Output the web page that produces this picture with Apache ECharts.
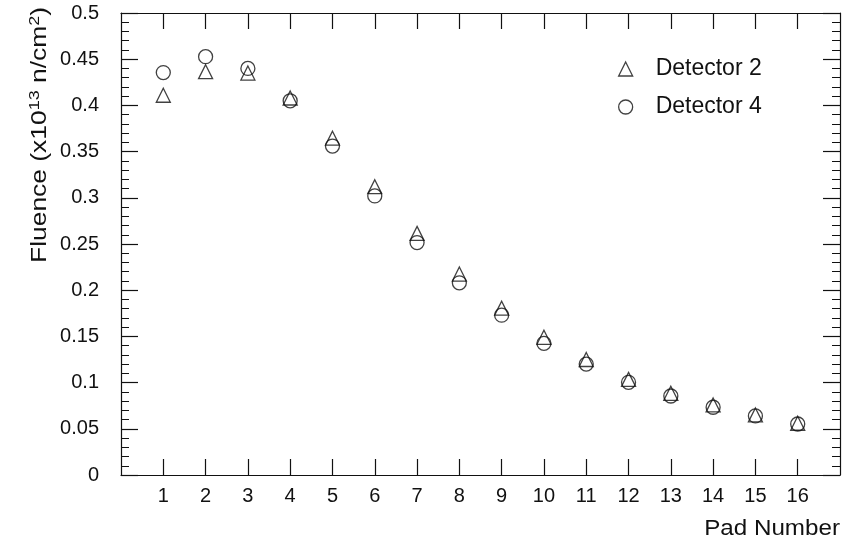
<!DOCTYPE html>
<html>
<head>
<meta charset="utf-8">
<title>Fluence per pad</title>
<script src="https://cdn.jsdelivr.net/npm/echarts@6/dist/echarts.min.js"></script>
<style>
  html, body { margin: 0; padding: 0; background: #fff; }
  #chart { width: 845px; height: 548px; }
</style>
</head>
<body>
<div id="chart"></div>
<script>
// Pad numbers along the x axis
const pads = [1, 2, 3, 4, 5, 6, 7, 8, 9, 10, 11, 12, 13, 14, 15, 16];
// Fluence (x10^13 n/cm^2) per pad
const detector2 = [0.411, 0.4365, 0.435, 0.408, 0.3645, 0.312, 0.2615, 0.2175, 0.1805, 0.149, 0.125, 0.1035, 0.0884, 0.0758, 0.065, 0.056];
const detector4 = [0.4355, 0.4527, 0.440, 0.405, 0.356, 0.302, 0.2515, 0.208, 0.173, 0.1425, 0.120, 0.1003, 0.0855, 0.0733, 0.0639, 0.0552];
const seriesNames = ['Detector 2', 'Detector 4'];

const FONT = '"Liberation Sans", Arial, Helvetica, sans-serif';
const INK = '#111';

const chart = echarts.init(document.getElementById('chart'), null, { renderer: 'canvas' });

const hollow = { color: 'rgba(255,255,255,0)', borderColor: INK, borderWidth: 1.3 };

// Frame edges stay on their own side of the grid
const frameLine = { show: true, onZero: false, lineStyle: { color: INK, width: 1.2 } };

chart.setOption({
  animation: false,
  backgroundColor: '#fff',
  grid: { left: 121, top: 13, right: 5, bottom: 73, containLabel: false },
  xAxis: [
    {
      type: 'value', position: 'bottom', min: 0, max: 17, interval: 1,
      axisLine: frameLine,
      axisTick: { inside: true, length: 16, customValues: pads, lineStyle: { color: INK, width: 1.2 } },
      axisLabel: { customValues: pads, margin: 11, fontSize: 20, fontFamily: FONT, color: INK },
      splitLine: { show: false }
    },
    {
      type: 'value', position: 'top', min: 0, max: 17, interval: 1,
      axisLine: frameLine,
      axisTick: { inside: true, length: 16, customValues: pads, lineStyle: { color: INK, width: 1.2 } },
      axisLabel: { show: false },
      splitLine: { show: false }
    }
  ],
  yAxis: [
    {
      type: 'value', position: 'left', min: 0, max: 0.5, interval: 0.05,
      axisLine: frameLine,
      axisTick: { inside: true, length: 17, lineStyle: { color: INK, width: 1.2 } },
      minorTick: { show: true, splitNumber: 5, length: 8, lineStyle: { color: INK, width: 1 } },
      axisLabel: { margin: 22, fontSize: 20, fontFamily: FONT, color: INK },
      splitLine: { show: false },
      minorSplitLine: { show: false }
    },
    {
      type: 'value', position: 'right', min: 0, max: 0.5, interval: 0.05,
      axisLine: frameLine,
      axisTick: { inside: true, length: 17, lineStyle: { color: INK, width: 1.2 } },
      minorTick: { show: true, splitNumber: 5, length: 8, lineStyle: { color: INK, width: 1 } },
      axisLabel: { show: false },
      splitLine: { show: false },
      minorSplitLine: { show: false }
    }
  ],
  legend: {
    orient: 'vertical', left: 618, top: 57, padding: 0,
    itemWidth: 14, itemHeight: 14, itemGap: 14,
    textStyle: { fontSize: 23, fontFamily: FONT, color: INK, lineHeight: 24, padding: [0, 0, 0, 18] },
    data: [
      { name: seriesNames[0], icon: 'triangle', itemStyle: hollow },
      { name: seriesNames[1], icon: 'circle', itemStyle: hollow }
    ],
    selectedMode: false
  },
  series: [
    {
      name: seriesNames[0], type: 'scatter', symbol: 'triangle', symbolSize: 14,
      itemStyle: hollow, emphasis: { disabled: true },
      data: pads.map((p, i) => [p, detector2[i]])
    },
    {
      name: seriesNames[1], type: 'scatter', symbol: 'circle', symbolSize: 14,
      itemStyle: hollow, emphasis: { disabled: true },
      data: pads.map((p, i) => [p, detector4[i]])
    }
  ],
  graphic: [
    {
      type: 'text', x: 840, y: 529,
      scaleX: 1.1,
      style: {
        text: 'Pad Number', font: '22px ' + FONT, fill: INK,
        align: 'right', verticalAlign: 'middle'
      }
    },
    {
      type: 'text', x: 40, y: 7, rotation: Math.PI / 2,
      scaleX: 1.2,
      style: {
        text: 'Fluence (x10{sup|13} n/cm{sup|2})',
        font: '22px ' + FONT, fill: INK, lineHeight: 26,
        align: 'right', verticalAlign: 'middle',
        rich: {
          sup: { fontSize: 15, fontFamily: FONT, fill: INK, lineHeight: 15, verticalAlign: 'top' }
        }
      }
    }
  ]
});
</script>
</body>
</html>
